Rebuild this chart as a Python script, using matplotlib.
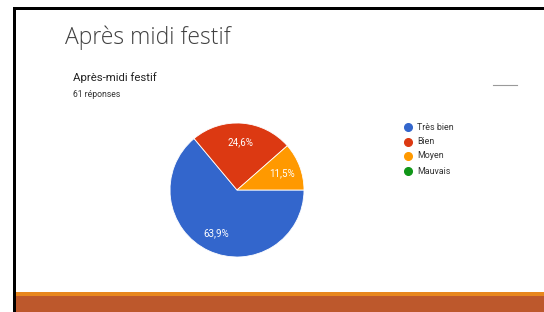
import matplotlib
matplotlib.use("Agg")
import matplotlib.pyplot as plt
from matplotlib.patches import Rectangle
from matplotlib.lines import Line2D

slide_title = "Après midi festif"
chart_title = "Après-midi festif"
subtitle = "61 réponses"
categories = ["Très bien", "Bien", "Moyen", "Mauvais"]
counts = [39, 15, 7, 0]
colors = ["#3366cc", "#dc3912", "#ff9900", "#109618"]

W, H = 544, 312
fig = plt.figure(figsize=(W / 100, H / 100), dpi=100)
fig.patch.set_facecolor("white")

def fx(x):
    return x / W

def fy(y):
    return 1 - y / H

# slide border (black left/top)
fig.add_artist(Rectangle((fx(13), fy(312)), 3 / W, 304 / H, transform=fig.transFigure, color="black", lw=0))
fig.add_artist(Rectangle((fx(13), fy(10)), 1, 3 / H, transform=fig.transFigure, color="black", lw=0))
# bottom bars
fig.add_artist(Rectangle((fx(16), fy(296)), 1, 4 / H, transform=fig.transFigure, color="#e8871e", lw=0))
fig.add_artist(Rectangle((fx(16), fy(312)), 1, 16 / H, transform=fig.transFigure, color="#bd582c", lw=0))

# titles
fig.text(fx(65), fy(44), slide_title, fontsize=16.5, family="Open Sans", fontweight="light", color="#404040", va="baseline")
fig.text(fx(73), fy(81), chart_title, fontsize=8.2, family="Roboto", color="#222222", va="baseline")
fig.text(fx(73), fy(97), subtitle, fontsize=6.2, family="Roboto", color="#333333", va="baseline")
# dash at right
fig.add_artist(Line2D([fx(493), fx(517)], [fy(85), fy(85)], transform=fig.transFigure, color="#9a9a9a", lw=0.8))

# pie
cx, cy, r = 237, 190, 67
ax = fig.add_axes([fx(cx - r), fy(cy + r), 2 * r / W, 2 * r / H])
vals = [v for v in counts if v > 0]
cols = [c for v, c in zip(counts, colors) if v > 0]

def fmt(p):
    return f"{p:.1f}%".replace(".", ",")

wedges, texts, autotexts = ax.pie(vals, colors=cols, startangle=0, counterclock=False,
                                  autopct=fmt, pctdistance=0.72, radius=1,
                                  wedgeprops=dict(edgecolor="white", linewidth=0.6),
                                  textprops=dict(color="white", fontsize=7, family="Roboto"))
ax.set_xlim(-1, 1)
ax.set_ylim(-1, 1)
ax.set_aspect("auto")
ax.axis("off")

# legend
ys = [127, 142, 156, 171]
for cat, col, y in zip(categories, colors, ys):
    fig.add_artist(Line2D([fx(408)], [fy(y)], transform=fig.transFigure, marker="o", markersize=5.5,
                          color=col, lw=0))
    fig.text(fx(417), fy(y), cat, fontsize=6.4, family="Roboto", color="#333333", va="center")

fig.savefig("out.png", dpi=100, facecolor="white")
